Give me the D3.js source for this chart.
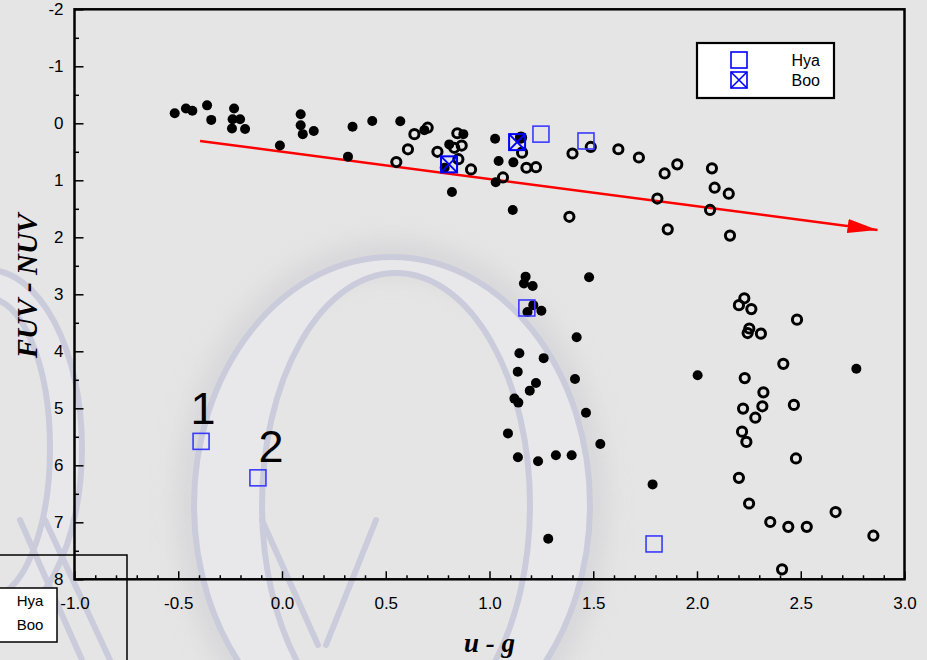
<!DOCTYPE html>
<html>
<head>
<meta charset="utf-8">
<script src="https://cdn.jsdelivr.net/npm/d3@7"></script>
<style>
  html, body { margin: 0; padding: 0; background: #e5e5e5; }
  svg { display: block; }
</style>
</head>
<body>
<script>
// ---------------- DATA ----------------
const xTicks = [-1.0, -0.5, 0.0, 0.5, 1.0, 1.5, 2.0, 2.5, 3.0];
const yTicks = [-2, -1, 0, 1, 2, 3, 4, 5, 6, 7, 8];

// filled black dots [u-g, FUV-NUV]
const filledStars = [
  [-0.517,-0.175],[-0.463,-0.26],[-0.432,-0.22],[-0.361,-0.315],[-0.341,-0.06],
  [-0.231,-0.26],[-0.238,-0.07],[-0.202,-0.07],[-0.241,0.09],[-0.178,0.10],
  [-0.01,0.39],[0.09,-0.16],[0.09,0.035],[0.10,0.19],[0.153,0.135],
  [0.34,0.06],[0.318,0.585],[0.435,-0.04],[0.57,-0.035],[0.686,0.12],
  [0.806,0.37],[0.784,0.78],[0.819,1.205],[0.874,0.19],[1.027,0.27],
  [1.044,0.66],[1.115,0.685],[1.03,1.035],[1.112,1.52],[1.147,0.26],
  [1.174,2.69],[1.166,2.81],[1.208,2.855],[1.48,2.70],[1.211,3.19],
  [1.183,3.31],[1.25,3.29],[1.42,3.755],[1.144,4.035],[1.261,4.12],
  [1.136,4.36],[1.412,4.485],[1.224,4.556],[1.194,4.69],[1.12,4.83],
  [1.139,4.90],[1.465,5.077],[1.089,5.44],[1.534,5.626],[1.137,5.86],
  [1.234,5.93],[1.32,5.825],[1.396,5.825],[1.283,7.29],[1.786,6.335],
  [2.003,4.42],[2.768,4.305]
];

// open circles [u-g, FUV-NUV]
const openStars = [
  [0.551,0.68],[0.607,0.456],[0.638,0.19],[0.702,0.077],[0.749,0.5],
  [0.845,0.175],[0.866,0.39],[0.83,0.43],[0.85,0.63],[0.911,0.81],
  [1.152,0.25],[1.157,0.515],[1.178,0.78],[1.224,0.77],[1.065,0.95],
  [1.4,0.53],[1.488,0.415],[1.621,0.455],[1.72,0.6],[1.844,0.88],
  [1.905,0.72],[2.072,0.79],[2.085,1.13],[2.153,1.235],[1.809,1.32],
  [2.063,1.52],[1.859,1.86],[2.159,1.97],[1.385,1.64],
  [2.228,3.07],[2.202,3.19],[2.262,3.26],[2.482,3.445],[2.252,3.6],
  [2.244,3.68],[2.308,3.69],[2.416,4.22],[2.23,4.47],[2.32,4.72],
  [2.315,4.965],[2.222,5.005],[2.467,4.94],[2.281,5.165],[2.217,5.41],
  [2.238,5.59],[2.477,5.88],[2.202,6.22],[2.251,6.67],[2.668,6.82],
  [2.353,6.995],[2.44,7.08],[2.529,7.08],[2.85,7.235],[2.41,7.825]
];

// Hya (open blue squares) and Boo (crossed blue squares)
const hya = [[-0.39,5.58],[-0.116,6.22],[1.18,3.24],[1.248,0.19],[1.465,0.31],[1.793,7.38]];
const boo = [[0.805,0.72],[1.133,0.33]];

// numbered annotations (attached to the first two Hya points)
const annotations = [{label: "1", pt: [-0.39,5.58]}, {label: "2", pt: [-0.116,6.22]}];

// red trend arrow endpoints
const arrowLine = [[-0.395,0.31],[2.87,1.87]];

const legendItems = ["Hya", "Boo"];

// ---------------- CHART ----------------
const W = 927, H = 660;
const svg = d3.select("body").append("svg").attr("width", W).attr("height", H);

svg.append("rect").attr("width", W).attr("height", H).attr("fill", "#e5e5e5");

const defs = svg.append("defs");
defs.append("filter").attr("id", "blur").attr("x", "-20%").attr("y", "-20%").attr("width", "140%").attr("height", "140%")
  .append("feGaussianBlur").attr("stdDeviation", 14);
defs.append("marker").attr("id", "arrowhead")
  .attr("viewBox", "0 0 30 14").attr("refX", 30).attr("refY", 7)
  .attr("markerWidth", 30).attr("markerHeight", 14).attr("markerUnits", "userSpaceOnUse")
  .attr("orient", "auto")
  .append("path").attr("d", "M0,0 L30,7 L0,14 Z").attr("fill", "#ff0000");

// watermark (background decoration)
const wm = svg.append("g").attr("class", "watermark").attr("opacity", 0.85);
function ellipsePath(cx, cy, rx, ry) {
  return `M${cx - rx},${cy} a${rx},${ry} 0 1,0 ${2*rx},0 a${rx},${ry} 0 1,0 ${-2*rx},0 Z`;
}
wm.append("path").attr("d", ellipsePath(392, 505, 198, 248))
  .attr("fill", "none").attr("stroke", "#d2d2d5").attr("stroke-width", 30).attr("filter", "url(#blur)");
wm.append("path").attr("d", ellipsePath(392, 505, 198, 248) + ellipsePath(396, 505, 134, 232))
  .attr("fill", "#e9e9ec").attr("fill-rule", "evenodd")
  .attr("stroke", "#c6c8da").attr("stroke-width", 6);
wm.append("path").attr("d", ellipsePath(-12, 448, 94, 178) + ellipsePath(-12, 448, 62, 150))
  .attr("fill", "#e9e9ec").attr("fill-rule", "evenodd")
  .attr("stroke", "#c6c8da").attr("stroke-width", 6);
const wmLines = [
  [[20,520],[82,660]], [[45,520],[110,660]],
  [[262,520],[318,645]], [[376,520],[326,645]]
];
wm.selectAll("line.wl").data(wmLines).join("line").attr("class", "wl")
  .attr("x1", d => d[0][0]).attr("y1", d => d[0][1])
  .attr("x2", d => d[1][0]).attr("y2", d => d[1][1])
  .attr("stroke", "#c6c8da").attr("stroke-width", 6).attr("stroke-linecap", "round");

// scales
const x = d3.scaleLinear().domain([-1, 3]).range([74.5, 904.5]);
const y = d3.scaleLinear().domain([-2, 8]).range([9.3, 579.3]);

// frame
svg.append("rect").attr("x", x(-1)).attr("y", y(-2))
  .attr("width", x(3) - x(-1)).attr("height", y(8) - y(-2))
  .attr("fill", "none").attr("stroke", "#000").attr("stroke-width", 2.5);

// axes
const hyphen = f => v => f(v).replace("\u2212", "-");
const xMinor = d3.range(-10, 31).map(i => i / 10).filter(v => !xTicks.some(t => Math.abs(t - v) < 1e-9));
const yMinor = d3.range(-4, 17).map(i => i / 2).filter(v => !yTicks.some(t => Math.abs(t - v) < 1e-9));

const xAxis = svg.append("g").attr("transform", `translate(0,${y(8)})`)
  .call(d3.axisBottom(x).tickValues(xTicks).tickSize(-8).tickPadding(18).tickFormat(hyphen(d3.format(".1f"))));
const xAxisMinor = svg.append("g").attr("transform", `translate(0,${y(8)})`)
  .call(d3.axisBottom(x).tickValues(xMinor).tickSize(-4).tickFormat(""));
const yAxis = svg.append("g").attr("transform", `translate(${x(-1)},0)`)
  .call(d3.axisLeft(y).tickValues(yTicks).tickSize(-9).tickPadding(11).tickFormat(hyphen(d3.format("d"))));
const yAxisMinor = svg.append("g").attr("transform", `translate(${x(-1)},0)`)
  .call(d3.axisLeft(y).tickValues(yMinor).tickSize(-4.5).tickFormat(""));

[xAxis, xAxisMinor, yAxis, yAxisMinor].forEach(g => {
  g.select(".domain").remove();
  g.selectAll(".tick line").attr("stroke", "#000").attr("stroke-width", 1.5);
  g.selectAll("text").attr("font-family", "Liberation Sans, Arial, sans-serif")
    .attr("font-size", 17).attr("fill", "#000");
});

// axis titles
svg.append("text").attr("x", (x(-1) + x(3)) / 2).attr("y", 652)
  .attr("text-anchor", "middle")
  .attr("font-family", "Liberation Serif, Times New Roman, serif")
  .attr("font-weight", "bold").attr("font-style", "italic").attr("font-size", 27)
  .text("u - g");
svg.append("text").attr("transform", `translate(37,286) rotate(-90)`)
  .attr("text-anchor", "middle")
  .attr("font-family", "Liberation Serif, Times New Roman, serif")
  .attr("font-weight", "bold").attr("font-style", "italic").attr("font-size", 29)
  .text("FUV - NUV");

// red arrow
svg.append("line")
  .attr("x1", x(arrowLine[0][0])).attr("y1", y(arrowLine[0][1]))
  .attr("x2", x(arrowLine[1][0])).attr("y2", y(arrowLine[1][1]))
  .attr("stroke", "#ff0000").attr("stroke-width", 2.5)
  .attr("marker-end", "url(#arrowhead)");

// filled dots
svg.append("g").selectAll("circle").data(filledStars).join("circle")
  .attr("cx", d => x(d[0])).attr("cy", d => y(d[1])).attr("r", 5)
  .attr("fill", "#000");

// open circles
svg.append("g").selectAll("circle").data(openStars).join("circle")
  .attr("cx", d => x(d[0])).attr("cy", d => y(d[1])).attr("r", 4.6)
  .attr("fill", "none").attr("stroke", "#000").attr("stroke-width", 3);

// Hya squares
const sq = 16;
svg.append("g").selectAll("rect").data(hya).join("rect")
  .attr("x", d => x(d[0]) - sq / 2).attr("y", d => y(d[1]) - sq / 2)
  .attr("width", sq).attr("height", sq)
  .attr("fill", "none").attr("stroke", "#3a3aff").attr("stroke-width", 1.6);

// Boo crossed squares
const booG = svg.append("g").selectAll("g").data(boo).join("g")
  .attr("transform", d => `translate(${x(d[0])},${y(d[1])})`);
booG.append("rect").attr("x", -sq / 2).attr("y", -sq / 2).attr("width", sq).attr("height", sq)
  .attr("fill", "none").attr("stroke", "#0000ff").attr("stroke-width", 2);
booG.append("path").attr("d", `M${-sq/2},${-sq/2}L${sq/2},${sq/2}M${sq/2},${-sq/2}L${-sq/2},${sq/2}`)
  .attr("stroke", "#0000ff").attr("stroke-width", 2);

// annotations
const annOffsets = [[2, -17], [13, -16]];
svg.append("g").selectAll("text").data(annotations).join("text")
  .attr("x", (d, i) => x(d.pt[0]) + annOffsets[i][0])
  .attr("y", (d, i) => y(d.pt[1]) + annOffsets[i][1])
  .attr("text-anchor", "middle")
  .attr("font-family", "Liberation Sans, Arial, sans-serif")
  .attr("font-size", 45).attr("fill", "#000")
  .text(d => d.label);

// legend (top right)
const lg = svg.append("g").attr("transform", "translate(697,43)");
lg.append("rect").attr("width", 137).attr("height", 55)
  .attr("fill", "#fff").attr("stroke", "#000").attr("stroke-width", 2.2);
legendItems.forEach((name, i) => {
  const cy = 17 + i * 20;
  lg.append("rect").attr("x", 42 - 8).attr("y", cy - 8).attr("width", 16).attr("height", 16)
    .attr("fill", "none").attr("stroke", "#0000ff").attr("stroke-width", 1.6);
  if (name === "Boo") {
    lg.append("path").attr("d", `M34,${cy-8}L50,${cy+8}M50,${cy-8}L34,${cy+8}`)
      .attr("stroke", "#0000ff").attr("stroke-width", 1.6);
  }
  lg.append("text").attr("x", 123).attr("y", cy + 6).attr("text-anchor", "end")
    .attr("font-family", "Liberation Sans, Arial, sans-serif").attr("font-size", 16)
    .attr("fill", "#000").text(name);
});

// stray legend fragment (bottom left)
svg.append("path").attr("d", "M-2,555 L127,555 L127,662")
  .attr("fill", "none").attr("stroke", "#000").attr("stroke-width", 1.5);
const lg2 = svg.append("g").attr("transform", "translate(-2,588)");
lg2.append("rect").attr("width", 59).attr("height", 54)
  .attr("fill", "#fff").attr("stroke", "#000").attr("stroke-width", 1.5);
legendItems.forEach((name, i) => {
  lg2.append("text").attr("x", 32).attr("y", 18 + i * 24).attr("text-anchor", "middle")
    .attr("font-family", "Liberation Sans, Arial, sans-serif").attr("font-size", 15)
    .attr("fill", "#000").text(name);
});
</script>
</body>
</html>
